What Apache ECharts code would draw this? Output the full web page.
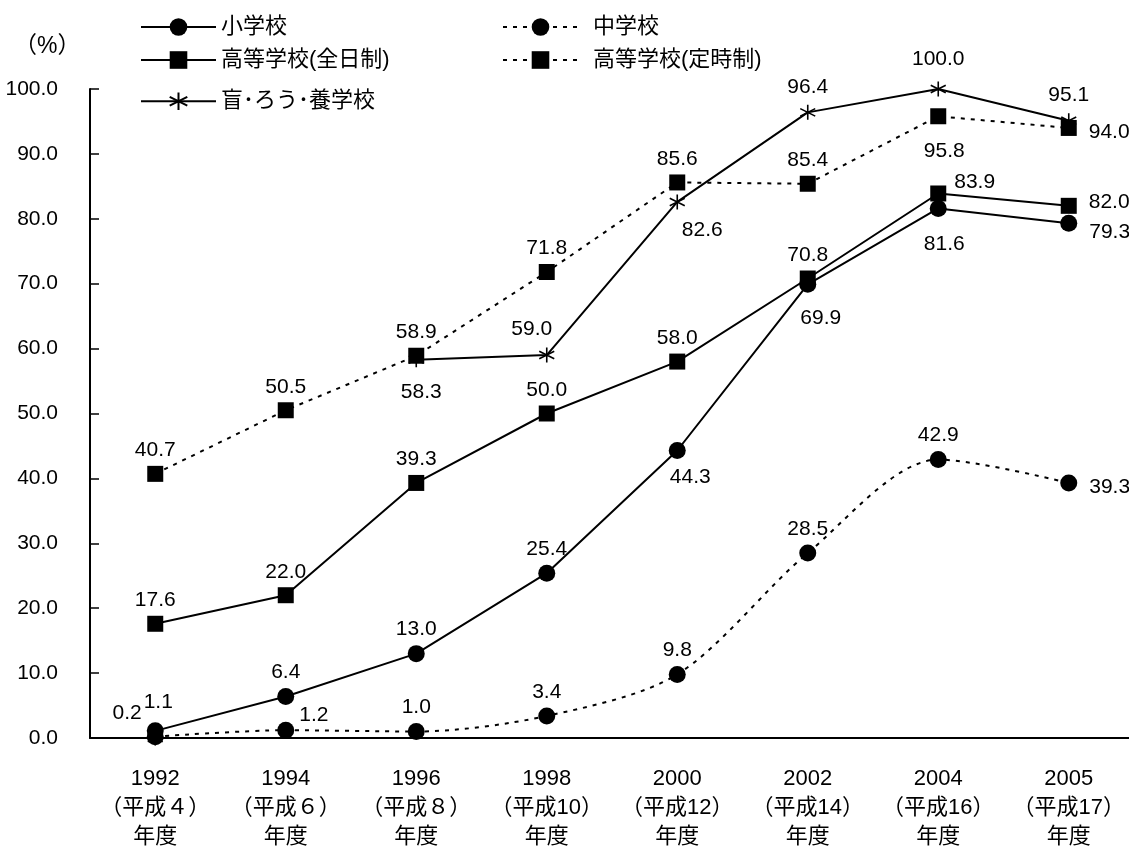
<!DOCTYPE html>
<html>
<head>
<meta charset="utf-8">
<script src="https://cdn.jsdelivr.net/npm/echarts@6/dist/echarts.min.js"></script>
<style>html,body{margin:0;padding:0;background:#fff;}#c{width:1129px;height:848px;}</style>
</head>
<body>
<div id="c"></div>
<script>
var categories = ['1992\n（平成４）\n年度','1994\n（平成６）\n年度','1996\n（平成８）\n年度','1998\n（平成10）\n年度','2000\n（平成12）\n年度','2002\n（平成14）\n年度','2004\n（平成16）\n年度','2005\n（平成17）\n年度'];
var seriesNames = ['小学校','中学校','高等学校(全日制)','高等学校(定時制)','盲･ろう･養学校'];
var elementary = [1.1, 6.4, 13.0, 25.4, 44.3, 69.9, 81.6, 79.3];
var juniorHigh = [0.2, 1.2, 1.0, 3.4, 9.8, 28.5, 42.9, 39.3];
var highFull = [17.6, 22.0, 39.3, 50.0, 58.0, 70.8, 83.9, 82.0];
var highPart = [40.7, 50.5, 58.9, 71.8, 85.6, 85.4, 95.8, 94.0];
var special = [0.0, null, 58.3, 59.0, 82.6, 96.4, 100.0, 95.1];
var yTicks = [0,10,20,30,40,50,60,70,80,90,100];

var FONT = "'Liberation Sans','Noto Sans CJK JP',sans-serif";

// label placement (style, not data)
var lbl = {
  elementary: [['top',[3,-5]],['top'],['top'],['top'],['bottom',[13,3]],['bottom',[13,10]],['bottom',[6,12]],['right',[7,9]]],
  juniorHigh: [['left',[0,-23]],['right',[0,-15]],['top'],['top'],['top'],['top'],['top'],['right',[7,4]]],
  highFull: [['top'],['top'],['top'],['top'],['top'],['top'],['right',[3,-11]],['right',[7,-4]]],
  highPart: [['top'],['top'],['top'],['top'],['top'],['top'],['bottom',[6,11]],['right',[7,4]]],
  special: [[null],[null],['bottom',[5,7]],['top',[-15,0]],['bottom',[25,3]],['top'],['top',[0,-4]],['top']]
};

function build(values, pos) {
  return values.map(function (v, i) {
    var p = pos[i];
    if (v === null) return '-';
    if (!p[0]) return { value: v, label: { show: false } };
    var l = { show: true, position: p[0] };
    if (p[1]) l.offset = p[1];
    return { value: v, label: l };
  });
}

var asterisk = 'path://M0,-10L0,10M-8.66,-5L8.66,5M-8.66,5L8.66,-5';

function mkSeries(name, values, pos, symbol, size, dashed, smooth) {
  return {
    name: name,
    type: 'line',
    data: build(values, pos),
    symbol: symbol,
    symbolSize: size,
    smooth: smooth || false,
    connectNulls: false,
    lineStyle: { color: '#000', width: 2, type: dashed ? [4, 6] : 'solid' },
    itemStyle: symbol === asterisk ? { color: 'none', borderColor: '#000', borderWidth: 1.6 } : { color: '#000', borderWidth: 0 },
    label: {
      show: true, color: '#000', fontSize: 21, fontFamily: FONT,
      formatter: function (p) { return Number(p.value).toFixed(1); }
    },
    emphasis: { disabled: true },
    animation: false
  };
}

function mkLegend(name, left, top, pad) {
  return {
    data: [name], left: left, top: top, padding: 0,
    itemWidth: 75, itemHeight: 22,
    textStyle: { color: '#000', fontSize: 22, fontFamily: FONT, padding: [0, 0, 0, pad || 0] },
    selectedMode: false
  };
}

var chart = echarts.init(document.getElementById('c'), null, { renderer: 'canvas' });
chart.setOption({
  backgroundColor: '#fff',
  animation: false,
  legend: [
    mkLegend(seriesNames[0], 140, 16, 0),
    mkLegend(seriesNames[1], 502, 16, 10),
    mkLegend(seriesNames[2], 140, 49, 0),
    mkLegend(seriesNames[3], 502, 49, 10),
    mkLegend(seriesNames[4], 140, 90, 0)
  ],
  graphic: [{
    type: 'text', left: 14, top: 35,
    style: { text: '（%）', fontSize: 23, fontFamily: FONT, fill: '#000' }
  }],
  grid: { left: 90, right: -5, top: 89, bottom: 110, containLabel: false, outerBoundsMode: 'none' },
  xAxis: {
    type: 'category', data: categories, boundaryGap: true,
    axisLine: { lineStyle: { color: '#000', width: 2 } },
    axisTick: { inside: true, length: 8, lineStyle: { color: '#000', width: 1.5 }, interval: 0 },
    axisLabel: { interval: 0, color: '#000', fontSize: 22, lineHeight: 29, margin: 26, fontFamily: FONT },
    splitLine: { show: false }
  },
  yAxis: {
    type: 'value', min: yTicks[0], max: yTicks[yTicks.length - 1], interval: yTicks[1] - yTicks[0],
    axisLine: { show: true, lineStyle: { color: '#000', width: 2 } },
    axisTick: { show: true, inside: true, length: 9, lineStyle: { color: '#000', width: 1.5 } },
    axisLabel: { color: '#000', fontSize: 21, margin: 32, fontFamily: FONT, formatter: function (v) { return v.toFixed(1); } },
    splitLine: { show: false }
  },
  series: [
    mkSeries(seriesNames[0], elementary, lbl.elementary, 'circle', 17, false),
    mkSeries(seriesNames[1], juniorHigh, lbl.juniorHigh, 'circle', 17, true, 0.3),
    mkSeries(seriesNames[2], highFull, lbl.highFull, 'rect', 16, false),
    mkSeries(seriesNames[3], highPart, lbl.highPart, 'rect', 16, true),
    mkSeries(seriesNames[4], special, lbl.special, asterisk, 15, false)
  ]
});
</script>
</body>
</html>
